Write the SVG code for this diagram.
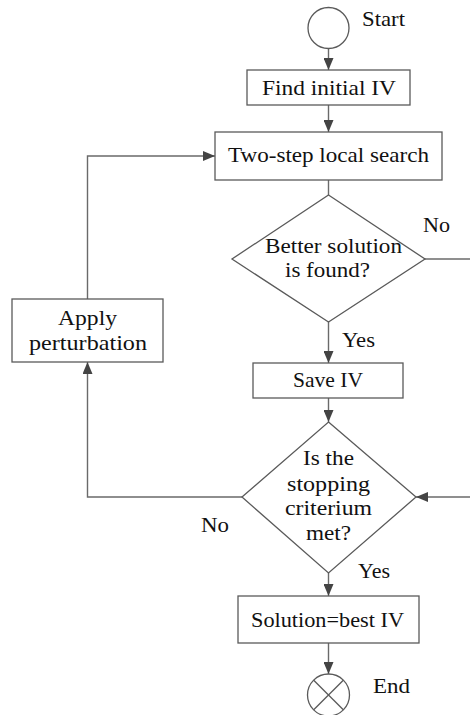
<svg xmlns="http://www.w3.org/2000/svg" width="470" height="715" viewBox="0 0 470 715">
  <style>
    .shape { fill: #ffffff; stroke: #5a5a5a; stroke-width: 1.3; }
    .edge { fill: none; stroke: #6a6a6a; stroke-width: 1.4; }
    text { font-family: "Liberation Serif", "Times New Roman", serif; font-size: 22px; fill: #111111; }
  </style>
  <defs>
    <marker id="arrow" viewBox="0 0 12 10" refX="12" refY="5" markerWidth="12" markerHeight="10" markerUnits="userSpaceOnUse" orient="auto">
      <path d="M0,0 L12,5 L0,10 Z" fill="#444444"/>
    </marker>
  </defs>
  <rect width="470" height="715" fill="#ffffff"/>

  <!-- connectors -->
  <g id="connectors">
    <line class="edge" x1="328.5" y1="48.5" x2="328.5" y2="70" marker-end="url(#arrow)"/>
    <line class="edge" x1="328.5" y1="105" x2="328.5" y2="132" marker-end="url(#arrow)"/>
    <line class="edge" x1="328.5" y1="180" x2="328.5" y2="195"/>
    <line class="edge" x1="328.5" y1="322" x2="328.5" y2="363" marker-end="url(#arrow)"/>
    <line class="edge" x1="328.5" y1="398" x2="328.5" y2="422" marker-end="url(#arrow)"/>
    <line class="edge" x1="328.5" y1="573" x2="328.5" y2="596" marker-end="url(#arrow)"/>
    <line class="edge" x1="328.5" y1="643" x2="328.5" y2="674" marker-end="url(#arrow)"/>
    <polyline class="edge" points="242,497 87.5,497 87.5,362" marker-end="url(#arrow)"/>
    <polyline class="edge" points="87.5,299 87.5,156 215,156" marker-end="url(#arrow)"/>
    <line class="edge" x1="425" y1="259" x2="470" y2="259"/>
    <line class="edge" x1="470" y1="497" x2="416" y2="497" marker-end="url(#arrow)"/>
  </g>

  <g id="start">
    <circle class="shape" cx="328.5" cy="28" r="20.5"/>
    <text x="362" y="26" textLength="43" lengthAdjust="spacingAndGlyphs">Start</text>
  </g>

  <g id="find-initial">
    <rect class="shape" x="247" y="70" width="163" height="35"/>
    <text x="262" y="95" textLength="134" lengthAdjust="spacingAndGlyphs">Find initial IV</text>
  </g>

  <g id="local-search">
    <rect class="shape" x="215" y="132" width="227" height="48"/>
    <text x="228" y="162" textLength="201" lengthAdjust="spacingAndGlyphs">Two-step local search</text>
  </g>

  <g id="better-solution">
    <polygon class="shape" points="328.5,195 425,259 328.5,322 232,259"/>
    <text x="265" y="253" textLength="137" lengthAdjust="spacingAndGlyphs">Better solution</text>
    <text x="285" y="277" textLength="85" lengthAdjust="spacingAndGlyphs">is found?</text>
    <text x="423" y="232" textLength="27" lengthAdjust="spacingAndGlyphs">No</text>
    <text x="342" y="347" textLength="33" lengthAdjust="spacingAndGlyphs">Yes</text>
  </g>

  <g id="save-iv">
    <rect class="shape" x="253" y="363" width="150" height="35"/>
    <text x="293" y="387" textLength="70" lengthAdjust="spacingAndGlyphs">Save IV</text>
  </g>

  <g id="stopping">
    <polygon class="shape" points="328.5,422 416,497 328.5,573 242,497"/>
    <text x="303" y="465" textLength="51" lengthAdjust="spacingAndGlyphs">Is the</text>
    <text x="287" y="491" textLength="83" lengthAdjust="spacingAndGlyphs">stopping</text>
    <text x="285" y="515" textLength="87" lengthAdjust="spacingAndGlyphs">criterium</text>
    <text x="306" y="540" textLength="45" lengthAdjust="spacingAndGlyphs">met?</text>
    <text x="201" y="532" textLength="28" lengthAdjust="spacingAndGlyphs">No</text>
    <text x="358" y="578" textLength="32" lengthAdjust="spacingAndGlyphs">Yes</text>
  </g>

  <g id="perturbation">
    <rect class="shape" x="12" y="299" width="151" height="63"/>
    <text x="58" y="325" textLength="59" lengthAdjust="spacingAndGlyphs">Apply</text>
    <text x="29" y="350" textLength="118" lengthAdjust="spacingAndGlyphs">perturbation</text>
  </g>

  <g id="solution">
    <rect class="shape" x="238" y="596" width="181" height="47"/>
    <text x="251" y="627" textLength="153" lengthAdjust="spacingAndGlyphs">Solution=best IV</text>
  </g>

  <g id="end">
    <circle class="shape" cx="328.5" cy="695" r="21"/>
    <line class="shape" x1="313.7" y1="680.2" x2="343.3" y2="709.8"/>
    <line class="shape" x1="343.3" y1="680.2" x2="313.7" y2="709.8"/>
    <text x="373" y="693" textLength="37" lengthAdjust="spacingAndGlyphs">End</text>
  </g>
</svg>
